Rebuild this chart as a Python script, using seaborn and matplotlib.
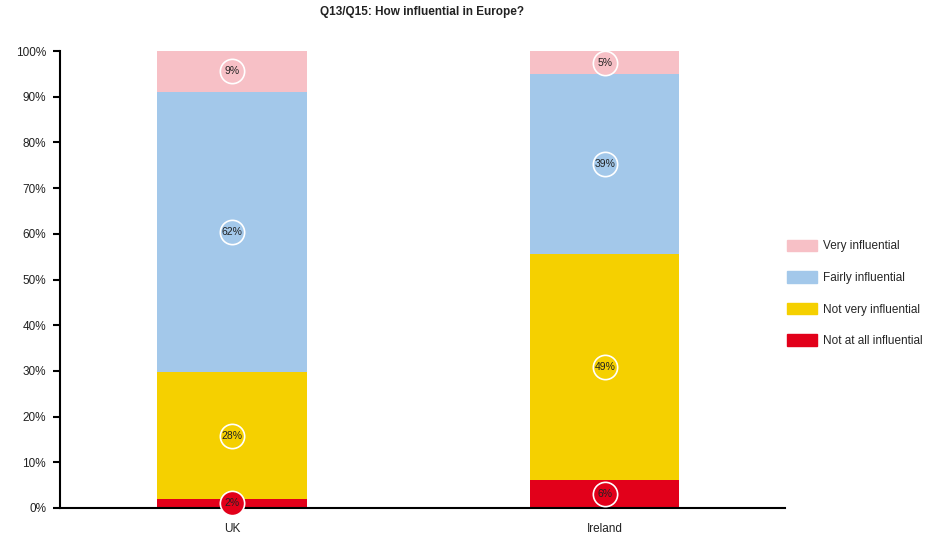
import matplotlib
matplotlib.use("Agg")
import matplotlib.pyplot as plt
import matplotlib.patches as mpatches
import seaborn as sns
import pandas as pd
import numpy as np

countries = ["UK", "Ireland"]
categories = ["Not at all influential", "Not very influential", "Fairly influential", "Very influential"]
uk_values = [2, 28, 62, 9]
ireland_values = [6, 49, 39, 5]
colors = ["#E2001A", "#F5D000", "#A3C8EA", "#F7C0C6"]
title = "Q13/Q15: How influential in Europe?"

sns.set_style("white")
plt.rcParams['font.family'] = ['Liberation Sans', 'DejaVu Sans']

# normalise each bar to 100%
vals = np.array([uk_values, ireland_values], dtype=float)
shares = vals / vals.sum(axis=1, keepdims=True) * 100
cum = np.cumsum(shares, axis=1)

fig = plt.figure(figsize=(9.25, 5.37), dpi=100)
ax = fig.add_axes([60 / 925, 29 / 537, 725 / 925, 457 / 537])

# draw cumulative layers, tallest first so lower ones sit on top
for i in reversed(range(len(categories))):
    df = pd.DataFrame({"country": countries, "value": cum[:, i]})
    sns.barplot(data=df, x="country", y="value", color=colors[i], width=0.4,
                saturation=1, ax=ax, linewidth=0, zorder=2)

# value labels in circles
for j in range(len(countries)):
    bottoms = np.concatenate([[0], cum[j, :-1]])
    for i in range(len(categories)):
        yc = bottoms[i] + shares[j, i] / 2
        ax.plot([j], [yc], marker="o", markersize=17.5, markerfacecolor=colors[i],
                markeredgecolor="white", markeredgewidth=1.2, zorder=4, clip_on=False)
        ax.text(j, yc, f"{int(vals[j, i])}%", ha="center", va="center", fontsize=7.5,
                color="#222222", zorder=5)

ax.set_xlim(-0.461, 1.483)
ax.set_ylim(0, 100)
ax.set_yticks(np.arange(0, 101, 10))
ax.set_yticklabels([f"{v}%" for v in range(0, 101, 10)], fontsize=8.5, color="#222222")
ax.set_xticks([0, 1])
ax.set_xticklabels(countries, fontsize=8.5, color="#222222")
ax.tick_params(axis="x", length=0, pad=11)
ax.set_xticks([-0.461, 0.5, 1.483], minor=True)
ax.tick_params(axis="x", which="minor", direction="out", length=5, width=1.5, color="black")
ax.tick_params(axis="y", direction="out", length=5, width=1.5, color="black", left=True, pad=5)
ax.set_xlabel("")
ax.set_ylabel("")
for s in ["top", "right"]:
    ax.spines[s].set_visible(False)
for s in ["left", "bottom"]:
    ax.spines[s].set_color("black")
    ax.spines[s].set_linewidth(1.5)

ax.set_title(title, fontsize=8.5, fontweight="bold", pad=26, color="#222222")

handles = [mpatches.Patch(color=colors[i], label=categories[i]) for i in reversed(range(len(categories)))]
fig.legend(handles=handles, loc="upper left", bbox_to_anchor=(782 / 925, 1 - 235 / 537),
           frameon=False, fontsize=8.5, handlelength=2.6, handleheight=1.1,
           labelspacing=1.6, handletextpad=0.45, borderaxespad=0)

fig.savefig("out.png", dpi=100)
